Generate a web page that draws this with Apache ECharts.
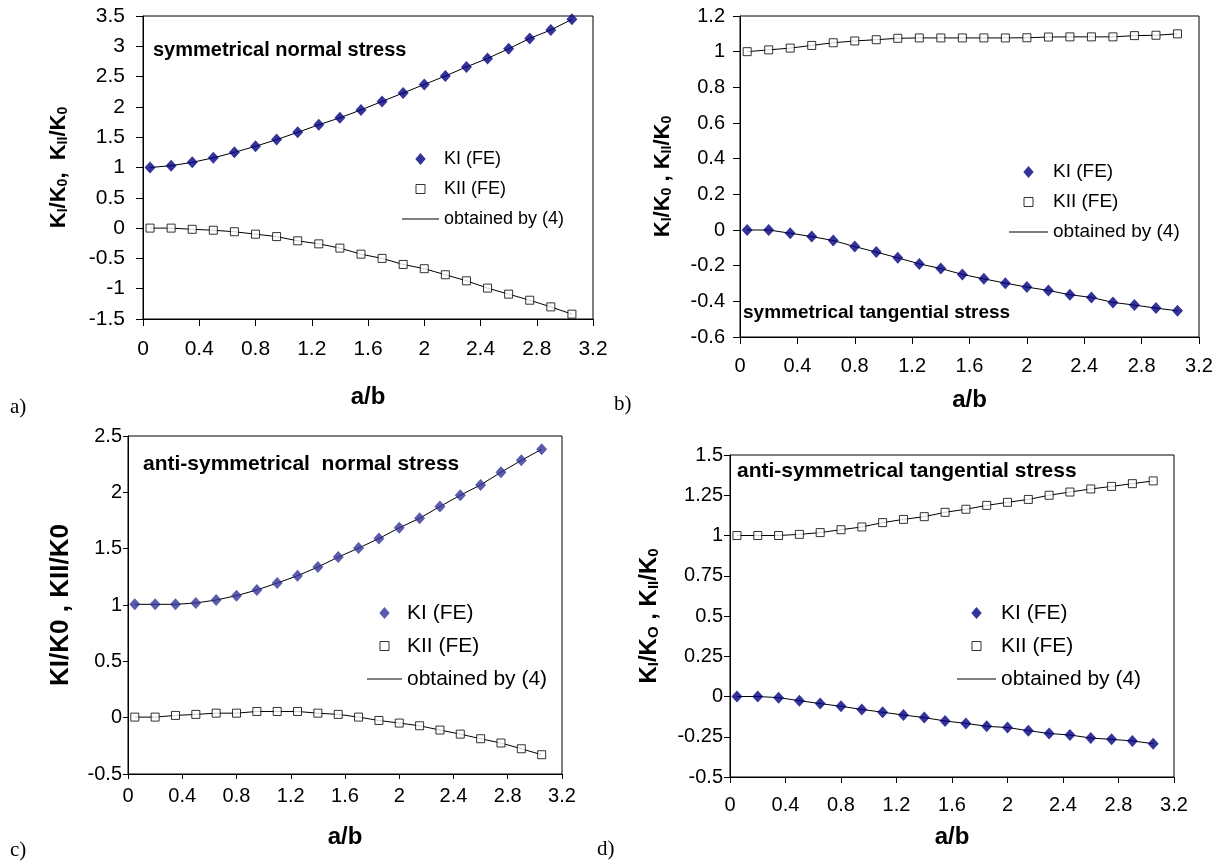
<!DOCTYPE html>
<html><head><meta charset="utf-8">
<script src="https://cdn.jsdelivr.net/npm/echarts@6/dist/echarts.min.js"></script>
<style>html,body{margin:0;padding:0;background:#fff}#c{width:1224px;height:863px}</style>
</head><body><div id="c"></div>
<script>
// ---- data ----
const abRatio = [0.05,0.2,0.35,0.5,0.65,0.8,0.95,1.1,1.25,1.4,1.55,1.7,1.85,2.0,2.15,2.3,2.45,2.6,2.75,2.9,3.05];

const aKI  = [1.0,1.03,1.085,1.16,1.25,1.35,1.46,1.58,1.705,1.82,1.95,2.09,2.23,2.37,2.51,2.66,2.80,2.96,3.13,3.27,3.445];
const aKII = [0,0,-0.02,-0.035,-0.06,-0.10,-0.14,-0.21,-0.26,-0.33,-0.43,-0.50,-0.60,-0.67,-0.77,-0.87,-0.99,-1.09,-1.19,-1.30,-1.42];

const bKI  = [0,0,-0.018,-0.037,-0.059,-0.093,-0.124,-0.156,-0.19,-0.216,-0.249,-0.274,-0.298,-0.32,-0.339,-0.363,-0.378,-0.406,-0.421,-0.438,-0.453];
const bKII = [1.0,1.01,1.02,1.035,1.05,1.06,1.067,1.075,1.077,1.077,1.077,1.077,1.077,1.078,1.082,1.083,1.083,1.083,1.09,1.092,1.10];

const cKI  = [1.006,1.006,1.006,1.018,1.044,1.083,1.133,1.195,1.26,1.337,1.425,1.505,1.59,1.685,1.77,1.874,1.974,2.066,2.178,2.284,2.382];
const cKII = [0.005,0.005,0.02,0.029,0.04,0.04,0.055,0.055,0.055,0.04,0.029,0.005,-0.025,-0.048,-0.072,-0.11,-0.146,-0.187,-0.225,-0.276,-0.329];

const dKI  = [0,0,-0.007,-0.026,-0.044,-0.061,-0.08,-0.098,-0.115,-0.131,-0.152,-0.167,-0.185,-0.193,-0.212,-0.23,-0.239,-0.258,-0.266,-0.276,-0.293];
const dKII = [1.0,1.0,1.0,1.007,1.018,1.036,1.053,1.08,1.10,1.117,1.144,1.163,1.187,1.206,1.224,1.25,1.27,1.289,1.305,1.322,1.339];

const xRange = [0, 3.2, 0.4];
const yRangeA = [-1.5, 3.5, 0.5];
const yRangeB = [-0.6, 1.2, 0.2];
const yRangeC = [-0.5, 2.5, 0.5];
const yRangeD = [-0.5, 1.5, 0.25];

const legendNames = ['KI (FE)', 'KII (FE)', 'obtained by (4)'];
const notes = ['symmetrical normal stress', 'symmetrical tangential stress', 'anti-symmetrical  normal stress', 'anti-symmetrical tangential stress'];
const panelLetters = ['a)', 'b)', 'c)', 'd)'];
const xName = 'a/b';
const yNames = [
  '{b|K}{s|I}{b|/K}{s|0}{b|,  K}{s|II}{b|/K}{s|0}',
  '{b|K}{s|I}{b|/K}{s|0}{b| , K}{s|II}{b|/K}{s|0}',
  'KI/K0 , KII/K0',
  '{b|K}{s|I}{b|/K}{s|O}{b| , K}{s|II}{b|/K}{s|0}'
];

// ---- layout / style ----
const FF = 'Liberation Sans, Arial, sans-serif';
const panels = [
  {ki:aKI, kii:aKII, yr:yRangeA, grid:{left:143, top:16, width:450, height:303}, kiColor:'#000080',
   tick:21, tickLen:7, xMargin:20, yMargin:18, xGap:66, yGap:73, yb:22, ys:14,
   leg:{left:402, top:149, w:37, font:18, lh:20, gap:10},
   note:{left:153, top:40, size:20}, letter:{left:10, top:397}},
  {ki:bKI, kii:bKII, yr:yRangeB, grid:{left:740, top:16, width:459, height:321}, kiColor:'#000080',
   tick:20, tickLen:7, xMargin:19, yMargin:15, xGap:51, yGap:66, yb:22, ys:14,
   leg:{left:1009, top:162, w:39, font:19, lh:20, gap:10},
   note:{left:743, top:303, size:19}, letter:{left:614, top:394}},
  {ki:cKI, kii:cKII, yr:yRangeC, grid:{left:128, top:436, width:434, height:338}, kiColor:'#333399',
   tick:20, tickLen:5, xMargin:12, yMargin:6, xGap:51, yGap:54, yb:26, ys:26,
   leg:{left:367, top:602, w:35, font:21, lh:22, gap:11},
   note:{left:143, top:454, size:21}, letter:{left:10, top:840}},
  {ki:dKI, kii:dKII, yr:yRangeD, grid:{left:730, top:455, width:444, height:322}, kiColor:'#000080',
   tick:20, tickLen:6, xMargin:18, yMargin:7, xGap:48, yGap:69, yb:24, ys:15,
   leg:{left:957, top:602, w:39, font:21, lh:22, gap:11},
   note:{left:737, top:461, size:21}, letter:{left:597, top:839}}
];

const zip = (xs, ys) => xs.map((x, i) => [x, ys[i]]);
const diamondIcon = 'path://M0,0M12,12M6,0L11.2,6L6,12L0.8,6Z';
const squareIcon = 'path://M0,0M12,12M1.5,1.5h9v9h-9z';
const lineIcon = 'path://M0,0h40v1h-40z';

const option = {animation:false, backgroundColor:'#fff', grid:[], xAxis:[], yAxis:[], series:[], legend:[], title:[]};

panels.forEach((p, i) => {
  option.grid.push(Object.assign({show:true, borderColor:'#000', borderWidth:1, backgroundColor:'transparent', containLabel:false}, p.grid));
  option.xAxis.push({
    gridIndex:i, type:'value', min:xRange[0], max:xRange[1], interval:xRange[2],
    name:xName, nameLocation:'middle', nameGap:p.xGap,
    nameTextStyle:{fontFamily:FF, fontSize:24, fontWeight:'bold', color:'#000'},
    axisLine:{show:true, onZero:false, lineStyle:{color:'#000', width:1}},
    axisTick:{show:true, inside:false, length:p.tickLen, lineStyle:{color:'#000'}},
    axisLabel:{fontFamily:FF, fontSize:p.tick, color:'#000', margin:p.xMargin},
    splitLine:{show:false}
  });
  const rich = {b:{fontFamily:FF, fontSize:p.yb, fontWeight:'bold', color:'#000', verticalAlign:'bottom'},
                s:{fontFamily:FF, fontSize:p.ys, fontWeight:'bold', color:'#000', verticalAlign:'bottom'}};
  option.yAxis.push({
    gridIndex:i, type:'value', min:p.yr[0], max:p.yr[1], interval:p.yr[2],
    name:yNames[i], nameLocation:'middle', nameGap:p.yGap,
    nameTextStyle:{fontFamily:FF, fontSize:p.yb, fontWeight:'bold', color:'#000', rich: i===2 ? undefined : rich},
    axisLine:{show:true, onZero:false, lineStyle:{color:'#000', width:1}},
    axisTick:{show:true, inside:false, length:p.tickLen, lineStyle:{color:'#000'}},
    axisLabel:{fontFamily:FF, fontSize:p.tick, color:'#000', margin:p.yMargin},
    splitLine:{show:false}
  });
  [p.ki, p.kii].forEach(arr => option.series.push({
    type:'line', name:legendNames[2], xAxisIndex:i, yAxisIndex:i, data:zip(abRatio, arr),
    symbol:'none', lineStyle:{color:'#000', width:1}, itemStyle:{color:'#000'}, z:2, silent:true
  }));
  option.series.push({type:'scatter', name:legendNames[0], xAxisIndex:i, yAxisIndex:i, data:zip(abRatio, p.ki),
    symbol:'diamond', symbolSize:[11,12], itemStyle:{color:p.kiColor}, z:3, silent:true});
  option.series.push({type:'scatter', name:legendNames[1], xAxisIndex:i, yAxisIndex:i, data:zip(abRatio, p.kii),
    symbol:'rect', symbolSize:8, itemStyle:{color:'#fff', borderColor:'#000', borderWidth:1}, z:4, silent:true});
  option.legend.push({
    left:p.leg.left, top:p.leg.top, orient:'vertical', padding:0, itemWidth:p.leg.w, itemHeight:12,
    itemGap:p.leg.gap, selectedMode:false, symbolKeepAspect:true,
    textStyle:{fontFamily:FF, fontSize:p.leg.font, color:'#000', lineHeight:p.leg.lh},
    data:[
      {name:legendNames[0], icon:diamondIcon, itemStyle:{color:p.kiColor, borderWidth:0}},
      {name:legendNames[1], icon:squareIcon, itemStyle:{color:'#fff', borderColor:'#000', borderWidth:1}},
      {name:legendNames[2], icon:lineIcon, itemStyle:{color:'#000', borderWidth:0}}
    ]
  });
  option.title.push({text:notes[i], left:p.note.left, top:p.note.top, padding:0,
    textStyle:{fontFamily:FF, fontSize:p.note.size, fontWeight:'bold', color:'#000'}});
  option.title.push({text:panelLetters[i], left:p.letter.left, top:p.letter.top, padding:0,
    textStyle:{fontFamily:'Liberation Serif, Times New Roman, serif', fontSize:21, fontWeight:'normal', color:'#000'}});
});

const chart = echarts.init(document.getElementById('c'), null, {renderer:'canvas'});
chart.setOption(option);
</script>
</body></html>
